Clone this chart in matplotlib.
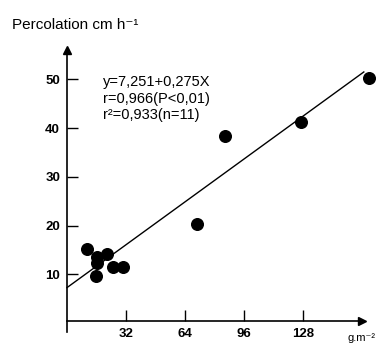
import numpy as np
import matplotlib.pyplot as plt

plt.rcParams['font.family'] = ['Liberation Sans', 'DejaVu Sans']

# biomass (g.m-2) vs percolation (cm h-1)
biomass = [11.0, 16.1, 16.1, 21.7, 15.7, 24.8, 30.2, 70.3, 85.7, 126.9, 163.8]
percolation = [15.2, 13.5, 12.4, 14.1, 9.6, 11.5, 11.5, 20.3, 38.3, 41.3, 50.2]
intercept = 7.251
slope = 0.275
xticks = [32, 64, 96, 128]
yticks = [10, 20, 30, 40, 50]

fig = plt.figure(figsize=(3.79, 3.45), dpi=100)
ax = fig.add_axes([0.167, 0.0357, 0.827, 0.833])

ax.scatter(biomass, percolation, s=70, color='black', zorder=3)
xl = np.array([0, 161])
ax.plot(xl, intercept + slope * xl, color='black', lw=1.0)

ax.set_xlim(-2, 168)
ax.set_ylim(-2, 57)
for s in ['top', 'right']:
    ax.spines[s].set_visible(False)
ax.spines['left'].set_position(('data', 0))
ax.spines['bottom'].set_position(('data', 0.4))
ax.spines['left'].set_bounds(-1.8, 55.5)
ax.spines['bottom'].set_bounds(0, 158)
for s in ['left', 'bottom']:
    ax.spines[s].set_linewidth(1.2)

# arrow heads
ax.plot(160, 0.4, marker='>', color='black', ms=6, clip_on=False)
ax.plot(0, 56, marker='^', color='black', ms=6, clip_on=False)

ax.set_xticks(xticks)
ax.set_yticks(yticks)
ax.tick_params(axis='both', direction='in', length=8, width=1.0, labelsize=9.5)
ax.tick_params(axis='x', pad=5)
ax.tick_params(axis='y', pad=5)
for lab in ax.get_xticklabels() + ax.get_yticklabels():
    lab.set_fontweight('bold')

ax.text(19.5, 50.8, 'y=7,251+0,275X\nr=0,966(P<0,01)\nr²=0,933(n=11)',
        fontsize=10.5, va='top', ha='left', linespacing=1.2)

fig.text(12 / 379, 1 - 25 / 345, 'Percolation cm h⁻¹', fontsize=11, va='center', ha='left')
fig.text(348 / 379, 1 - 338 / 345, 'g.m⁻²', fontsize=8, va='center', ha='left')

fig.savefig('out.png', dpi=100)
